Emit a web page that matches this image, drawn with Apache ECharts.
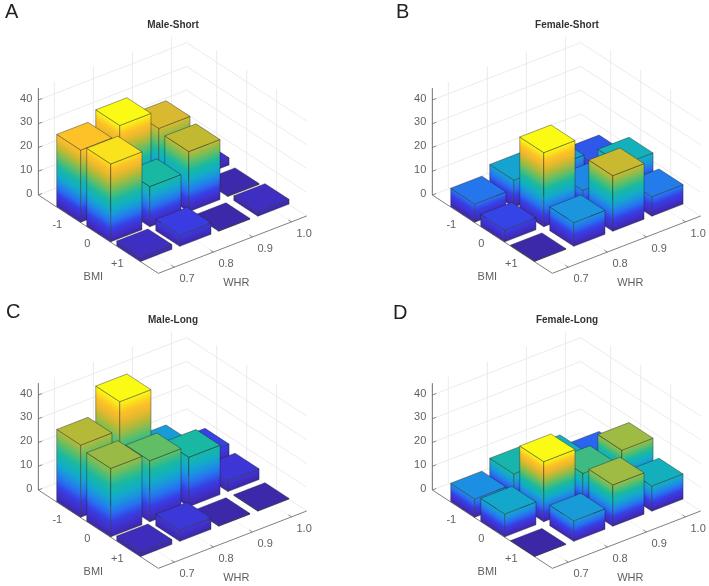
<!DOCTYPE html>
<html><head><meta charset="utf-8">
<style>html,body{margin:0;padding:0;background:#fff}#c{width:709px;height:586px;filter:blur(0.45px)}</style>
<script src="https://cdn.jsdelivr.net/npm/echarts@6/dist/echarts.min.js"></script>
</head><body><div id="c"></div>
<script>
// Values: rows are BMI (-1, 0, +1), columns are WHR (0.7, 0.8, 0.9, 1.0)
var maleShort   = [[30.4,34.4,26.8,3.0],[32.8,16.9,25.3,0.4],[2.0,4.8,0.3,2.0]];
var femaleShort = [[7.7,11.4,10.5,6.0],[5.0,31.2,9.0,13.3],[0.3,10.0,23.4,8.2]];
var maleLong    = [[30.4,42.3,14.5,6.7],[28.8,25.7,20.8,4.5],[2.0,4.8,0.3,0.3]];
var femaleLong  = [[7.7,11.9,10.3,5.4],[9.6,25.3,14.0,17.4],[0.1,8.6,17.4,10.6]];
var whrLabels = ['0.7','0.8','0.9','1.0'];
var bmiLabels = ['-1','0','+1'];
var zTicks = [0,10,20,30,40];
var panelTitles = ['Male-Short','Female-Short','Male-Long','Female-Long'];
var panelLetters = ['A','B','C','D'];
var panelData = [maleShort,femaleShort,maleLong,femaleLong];

// view (oblique projection of the 3D box into each panel's hidden cartesian axes)
var UX=148.33,UY=-57.33,VX=120,VY=78.33,ZK=2.375;
var WMIN=0.59,WMAX=4.39,BMAX=4,ZMAX=45,HALF=0.4;
var panelLeft=[38.33,432.33,38.33,432.33], panelBase=[195,195,490,490];
var YTOP=-164.2,YBOT=78.33;
function P(w,b,z){
  var u=(w-WMIN)/(WMAX-WMIN), v=b/BMAX;
  return [UX*u+VX*v, UY*u+VY*v-ZK*z];
}
var CM=[[0,[60,40,165]],[.08,[64,48,205]],[.15,[55,62,228]],[.23,[40,110,240]],[.31,[28,145,225]],
        [.39,[18,172,200]],[.5,[25,185,160]],[.61,[100,190,100]],[.73,[190,185,50]],[.82,[240,185,45]],
        [.88,[252,192,40]],[.94,[250,220,30]],[1,[250,250,20]]];
function cmap(t){
  t=Math.max(0,Math.min(1,t));
  for(var i=1;i<CM.length;i++){ if(t<=CM[i][0]){
    var a=CM[i-1],b=CM[i],f=(t-a[0])/(b[0]-a[0]);
    return 'rgb('+a[1].map(function(c,k){return Math.round(c+(b[1][k]-c)*f);}).join(',')+')';
  }}
  return 'rgb(250,250,20)';
}
var EDGE={stroke:'rgba(35,35,35,0.7)',lineWidth:0.6,lineJoin:'round'};
var TXT='#5f5f5f', FONT='11px "Liberation Sans", Arial, sans-serif';

function sideFace(api,a0,b0,z,zmax){
  // a0,b0: floor endpoints in data units; gradient isolines stay parallel to the floor edge
  var A=api.coord(P(a0[0],a0[1],0)),B=api.coord(P(b0[0],b0[1],0)),
      A2=api.coord(P(a0[0],a0[1],z)),B2=api.coord(P(b0[0],b0[1],z));
  var ex=B[0]-A[0],ey=B[1]-A[1],L=Math.hypot(ex,ey),nx=-ey/L,ny=ex/L;
  var hx=A2[0]-A[0],hy=A2[1]-A[1],d=hx*nx+hy*ny;
  var stops=[],top=z/zmax,N=24;
  for(var i=0;i<=N;i++){stops.push({offset:i/N,color:cmap(top*i/N)});}
  return {type:'polygon',shape:{points:[A,B,B2,A2]},
    style:Object.assign({fill:new echarts.graphic.LinearGradient(A[0],A[1],A[0]+nx*d,A[1]+ny*d,stops,true)},EDGE)};
}
function barRender(zmax){
  return function(params,api){
    var w=api.value(0),b=api.value(1),z=api.value(2);
    var wl=w-HALF,wh=w+HALF,bl=b-HALF,bh=b+HALF;
    var top=[P(wl,bl,z),P(wl,bh,z),P(wh,bh,z),P(wh,bl,z)].map(function(p){return api.coord(p);});
    return {type:'group',children:[
      sideFace(api,[wl,bl],[wl,bh],z,zmax),
      sideFace(api,[wl,bh],[wh,bh],z,zmax),
      {type:'polygon',shape:{points:top},style:Object.assign({fill:cmap(z/zmax)},EDGE)}
    ]};
  };
}
function line(api,p,q,color,w){
  var a=api.coord(p),b=api.coord(q);
  return {type:'line',shape:{x1:a[0],y1:a[1],x2:b[0],y2:b[1]},style:{stroke:color,lineWidth:w}};
}
function label(api,p,dx,dy,text,align,extra){
  var a=api.coord(p);
  return {type:'text',style:{x:a[0]+dx,y:a[1]+dy,text:text,fill:extra||TXT,font:FONT,align:align||'center',verticalAlign:'middle'}};
}
function frameRender(params,api){
  var c=[],GRID='#e6e6e6',FL='#f0f0f0',AX='#5f5f5f';
  // floor grid
  whrLabels.forEach(function(t,i){c.push(line(api,P(i+1,0,0),P(i+1,BMAX,0),FL,0.8));});
  bmiLabels.forEach(function(t,i){c.push(line(api,P(WMIN,i+1,0),P(WMAX,i+1,0),FL,0.8));});
  // walls
  zTicks.forEach(function(z){
    c.push(line(api,P(WMIN,0,z),P(WMAX,0,z),GRID,0.8));
    c.push(line(api,P(WMAX,0,z),P(WMAX,BMAX,z),GRID,0.8));
  });
  whrLabels.forEach(function(t,i){c.push(line(api,P(i+1,0,0),P(i+1,0,ZMAX),GRID,0.8));});
  bmiLabels.forEach(function(t,i){c.push(line(api,P(WMAX,i+1,0),P(WMAX,i+1,ZMAX),GRID,0.8));});
  // axes
  c.push(line(api,P(WMIN,0,0),P(WMIN,0,ZMAX),AX,0.9));
  c.push(line(api,P(WMIN,0,0),P(WMIN,BMAX,0),AX,0.8));
  c.push(line(api,P(WMIN,BMAX,0),P(WMAX,BMAX,0),AX,0.8));
  zTicks.forEach(function(z){
    c.push(line(api,P(WMIN,0,z),P(WMIN+0.1,0,z),AX,0.7));
    c.push(label(api,P(WMIN,0,z),-6,-1.5,String(z),'right'));
  });
  bmiLabels.forEach(function(t,i){
    c.push(line(api,P(WMIN,i+1,0),P(WMIN+0.08,i+1,0),AX,0.7));
    c.push(label(api,P(WMIN,i+1,0),-11,10,t));
  });
  whrLabels.forEach(function(t,i){
    c.push(line(api,P(i+1,BMAX,0),P(i+1,BMAX-0.1,0),AX,0.7));
    c.push(label(api,P(i+1,BMAX,0),12.7,11.7,t));
  });
  c.push(label(api,P(WMIN,BMAX,0),-65,4,'BMI'));
  c.push(label(api,P(WMIN,BMAX,0),78,9.5,'WHR'));
  return {type:'group',children:c};
}

var grids=[],xAxes=[],yAxes=[],series=[],titles=[];
panelData.forEach(function(rows,k){
  var zmax=0,bars=[];
  rows.forEach(function(r){r.forEach(function(z){zmax=Math.max(zmax,z);});});
  rows.forEach(function(r,bi){ for(var wi=r.length-1;wi>=0;wi--){bars.push([wi+1,bi+1,r[wi]]);} });
  grids.push({left:panelLeft[k],width:UX+VX,top:panelBase[k]+YTOP,height:YBOT-YTOP,containLabel:false,show:false});
  xAxes.push({type:'value',gridIndex:k,min:0,max:UX+VX,show:false});
  yAxes.push({type:'value',gridIndex:k,min:YTOP,max:YBOT,inverse:true,show:false});
  series.push({type:'custom',xAxisIndex:k,yAxisIndex:k,clip:false,silent:true,renderItem:frameRender,data:[[0,0]],encode:{x:0,y:1},animation:false,z:1});
  series.push({type:'custom',xAxisIndex:k,yAxisIndex:k,clip:false,silent:true,renderItem:barRender(zmax),data:bars,dimensions:['whr','bmi','value'],encode:{x:'whr',y:'bmi'},animation:false,z:2});
});
var titleX=[173,567,173,567], titleY=[20,20,315,315];
var letterX=[5,396,6,393], letterY=[2,2,302,303];
panelTitles.forEach(function(t,k){
  titles.push({text:t,left:titleX[k],top:titleY[k],textAlign:'center',padding:0,
    textStyle:{fontSize:10,fontWeight:'bold',color:'#333',fontFamily:'"Liberation Sans", Arial, sans-serif'}});
  titles.push({text:panelLetters[k],left:letterX[k],top:letterY[k],padding:0,
    textStyle:{fontSize:20,fontWeight:'normal',color:'#222',fontFamily:'"Liberation Sans", Arial, sans-serif'}});
});
var chart=echarts.init(document.getElementById('c'));
chart.setOption({animation:false,backgroundColor:'#fff',title:titles,grid:grids,xAxis:xAxes,yAxis:yAxes,series:series});
</script></body></html>
